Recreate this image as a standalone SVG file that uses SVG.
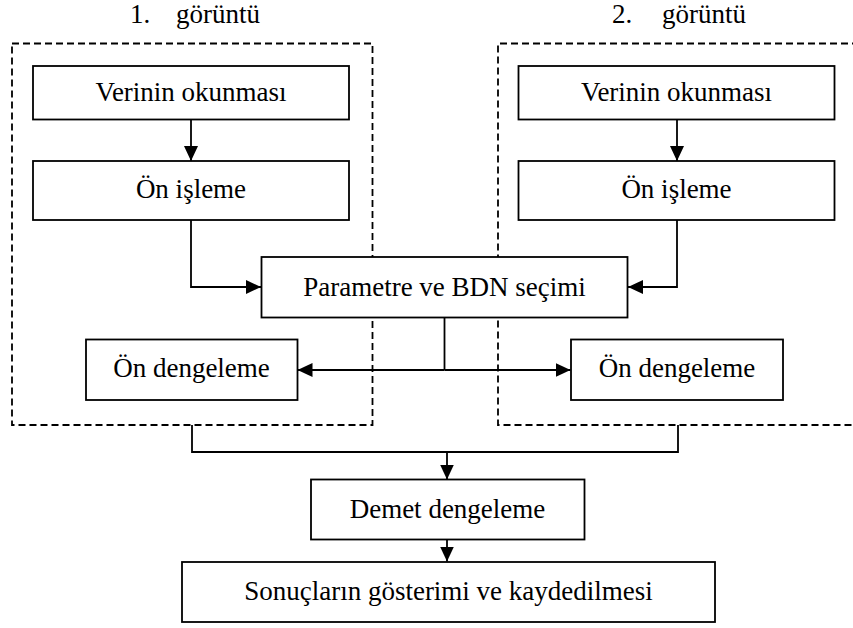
<svg xmlns="http://www.w3.org/2000/svg" width="853" height="628" viewBox="0 0 853 628">
<defs>
<style>
.box{fill:#fff;stroke:#000;stroke-width:1.8}
.dash{fill:none;stroke:#000;stroke-width:1.8;stroke-dasharray:7,4}
.t{font-family:'Liberation Serif','Times New Roman',serif;font-size:27px;fill:#000;text-anchor:middle}
.ti{font-family:'Liberation Serif','Times New Roman',serif;font-size:27px;fill:#000}
.c{fill:none;stroke:#000;stroke-width:1.8}
</style>
<marker id="ah" markerWidth="16" markerHeight="14" refX="15" refY="7" orient="auto" markerUnits="userSpaceOnUse">
<path d="M0,0 L15,7 L0,14 Z" fill="#000"/>
</marker>
</defs>
<rect width="853" height="628" fill="#fff"/>
<g id="titles">
<text class="ti" x="130" y="23">1.</text><text class="ti" x="176" y="23">görüntü</text>
<text class="ti" x="612" y="23">2.</text><text class="ti" x="662" y="23">görüntü</text>
</g>
<g id="groups">
<rect id="group1" class="dash" x="12" y="43.5" width="360.5" height="381.5"/>
<path id="group2" class="dash" d="M870,43.5 H498 V425 H870"/>
</g>
<g id="connectors">
<path class="c" d="M191,119.5 V161" marker-end="url(#ah)"/>
<path class="c" d="M191,220 V287 H261" marker-end="url(#ah)"/>
<path class="c" d="M677,119.5 V161" marker-end="url(#ah)"/>
<path class="c" d="M677,220 V287 H628" marker-end="url(#ah)"/>
<path class="c" d="M444.5,317.5 V370"/>
<path class="c" d="M444.5,370 H297.5" marker-end="url(#ah)"/>
<path class="c" d="M444.5,370 H570.5" marker-end="url(#ah)"/>
<path class="c" d="M192,425 V452 H678 V425"/>
<path class="c" d="M447,452 V479.5" marker-end="url(#ah)"/>
<path class="c" d="M447,539.5 V561.5" marker-end="url(#ah)"/>
</g>
<g id="n1-read">
<rect class="box" x="33" y="66" width="316" height="53.5"/>
<text class="t" x="191" y="101">Verinin okunması</text>
</g>
<g id="n1-pre">
<rect class="box" x="33" y="161" width="316" height="59"/>
<text class="t" x="191" y="198">Ön işleme</text>
</g>
<g id="n2-read">
<rect class="box" x="518.5" y="66" width="316" height="53.5"/>
<text class="t" x="676.5" y="101">Verinin okunması</text>
</g>
<g id="n2-pre">
<rect class="box" x="518.5" y="161" width="316" height="59"/>
<text class="t" x="676.5" y="198">Ön işleme</text>
</g>
<g id="param">
<rect class="box" x="261.5" y="257" width="366" height="60.5"/>
<text class="t" x="444.5" y="296">Parametre ve BDN seçimi</text>
</g>
<g id="n1-preadj">
<rect class="box" x="86" y="339.5" width="211.5" height="60.5"/>
<text class="t" x="191.5" y="377">Ön dengeleme</text>
</g>
<g id="n2-preadj">
<rect class="box" x="571" y="339.5" width="212" height="60.5"/>
<text class="t" x="677" y="377">Ön dengeleme</text>
</g>
<g id="bundle">
<rect class="box" x="311" y="479.5" width="273.5" height="60"/>
<text class="t" x="447.5" y="518">Demet dengeleme</text>
</g>
<g id="results">
<rect class="box" x="182" y="562" width="533" height="60"/>
<text class="t" x="448.5" y="600">Sonuçların gösterimi ve kaydedilmesi</text>
</g>
</svg>
